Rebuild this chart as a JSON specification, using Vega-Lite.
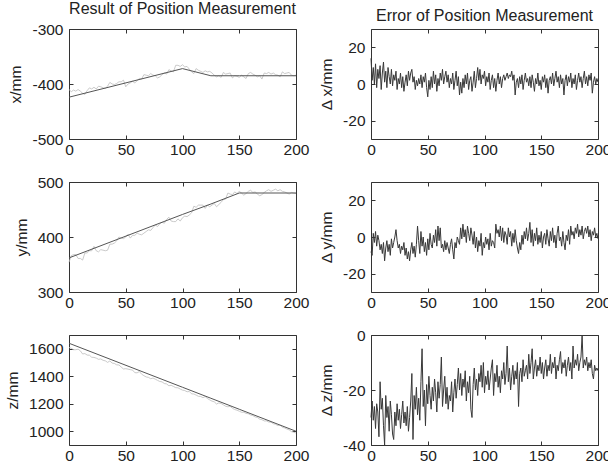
{
"$schema": "https://vega.github.io/schema/vega-lite/v6.json",
"padding": {"left": 5, "top": 0, "right": 5, "bottom": 5},
"background": "white",
"config": {
  "font": "Liberation Sans",
  "view": {"stroke": "#333", "strokeWidth": 1},
  "axis": {"domain": false, "grid": false, "tickColor": "#333", "tickSize": -4, "labelFontSize": 15.5, "labelColor": "#222", "labelFont": "Liberation Sans", "titleFont": "Liberation Sans", "titleFontSize": 15.5, "titleFontWeight": "normal", "titleColor": "#222", "labelFlush": false, "labelOverlap": false},
  "axisX": {"labelPadding": 7},
  "axisY": {"labelPadding": 10, "titlePadding": 8},
  "title": {"fontSize": 16, "fontWeight": "normal", "font": "Liberation Sans", "color": "#222", "offset": 5}
},
"datasets": {
"truth": [
{"t":0,"x":-424,"y":362,"z":1640},{"t":100,"x":-372,"y":441,"z":1320},{"t":125,"x":-385,"y":460,"z":1240},{"t":150,"x":-385,"y":480,"z":1160},{"t":200,"x":-385,"y":480,"z":1000}
],
"meas": [
{"t":0,"x":-410,"y":354,"z":1610},{"t":2,"x":-414,"y":366,"z":1603},{"t":4,"x":-411,"y":368,"z":1593},{"t":6,"x":-413,"y":368,"z":1593},{"t":8,"x":-410,"y":361,"z":1597},
{"t":10,"x":-413,"y":361,"z":1585},{"t":12,"x":-417,"y":358,"z":1562},{"t":14,"x":-419,"y":371,"z":1565},{"t":16,"x":-412,"y":371,"z":1554},{"t":18,"x":-407,"y":375,"z":1553},
{"t":20,"x":-409,"y":375,"z":1538},{"t":22,"x":-406,"y":383,"z":1537},{"t":24,"x":-409,"y":375,"z":1532},{"t":26,"x":-404,"y":373,"z":1523},{"t":28,"x":-405,"y":377,"z":1526},
{"t":30,"x":-407,"y":376,"z":1516},{"t":32,"x":-408,"y":375,"z":1512},{"t":34,"x":-404,"y":376,"z":1501},{"t":36,"x":-397,"y":387,"z":1511},{"t":38,"x":-400,"y":387,"z":1496},
{"t":40,"x":-401,"y":389,"z":1493},{"t":42,"x":-399,"y":393,"z":1483},{"t":44,"x":-396,"y":400,"z":1482},{"t":46,"x":-396,"y":398,"z":1467},{"t":48,"x":-393,"y":397,"z":1453},
{"t":50,"x":-405,"y":400,"z":1455},{"t":52,"x":-400,"y":405,"z":1452},{"t":54,"x":-398,"y":398,"z":1448},{"t":56,"x":-395,"y":403,"z":1445},{"t":58,"x":-398,"y":403,"z":1426},
{"t":60,"x":-394,"y":407,"z":1425},{"t":62,"x":-390,"y":405,"z":1434},{"t":64,"x":-391,"y":404,"z":1415},{"t":66,"x":-383,"y":407,"z":1404},{"t":68,"x":-384,"y":410,"z":1395},
{"t":70,"x":-385,"y":413,"z":1392},{"t":72,"x":-381,"y":412,"z":1382},{"t":74,"x":-384,"y":417,"z":1387},{"t":76,"x":-385,"y":422,"z":1379},{"t":78,"x":-389,"y":419,"z":1370},
{"t":80,"x":-387,"y":424,"z":1362},{"t":82,"x":-383,"y":427,"z":1359},{"t":84,"x":-380,"y":425,"z":1347},{"t":86,"x":-382,"y":432,"z":1344},{"t":88,"x":-374,"y":436,"z":1331},
{"t":90,"x":-376,"y":429,"z":1334},{"t":92,"x":-378,"y":428,"z":1326},{"t":94,"x":-366,"y":428,"z":1317},{"t":96,"x":-366,"y":433,"z":1316},{"t":98,"x":-368,"y":429,"z":1307},
{"t":100,"x":-365,"y":435,"z":1299},{"t":102,"x":-369,"y":438,"z":1296},{"t":104,"x":-368,"y":437,"z":1287},{"t":106,"x":-373,"y":440,"z":1289},{"t":108,"x":-378,"y":444,"z":1272},
{"t":110,"x":-381,"y":456,"z":1271},{"t":112,"x":-372,"y":454,"z":1263},{"t":114,"x":-375,"y":458,"z":1254},{"t":116,"x":-377,"y":458,"z":1253},{"t":118,"x":-379,"y":458,"z":1244},
{"t":120,"x":-376,"y":452,"z":1252},{"t":122,"x":-378,"y":458,"z":1238},{"t":124,"x":-377,"y":455,"z":1228},{"t":126,"x":-380,"y":458,"z":1219},{"t":128,"x":-384,"y":461,"z":1214},
{"t":130,"x":-387,"y":455,"z":1198},{"t":132,"x":-385,"y":459,"z":1206},{"t":134,"x":-388,"y":463,"z":1202},{"t":136,"x":-379,"y":468,"z":1192},{"t":138,"x":-382,"y":469,"z":1182},
{"t":140,"x":-381,"y":480,"z":1178},{"t":142,"x":-380,"y":478,"z":1181},{"t":144,"x":-389,"y":477,"z":1167},{"t":146,"x":-385,"y":482,"z":1158},{"t":148,"x":-386,"y":479,"z":1153},
{"t":150,"x":-388,"y":483,"z":1146},{"t":152,"x":-384,"y":480,"z":1138},{"t":154,"x":-387,"y":476,"z":1138},{"t":156,"x":-390,"y":479,"z":1130},{"t":158,"x":-381,"y":483,"z":1127},
{"t":160,"x":-379,"y":485,"z":1118},{"t":162,"x":-382,"y":481,"z":1114},{"t":164,"x":-384,"y":482,"z":1104},{"t":166,"x":-387,"y":478,"z":1100},{"t":168,"x":-385,"y":475,"z":1088},
{"t":170,"x":-391,"y":477,"z":1084},{"t":172,"x":-380,"y":481,"z":1075},{"t":174,"x":-381,"y":484,"z":1075},{"t":176,"x":-379,"y":486,"z":1067},{"t":178,"x":-382,"y":483,"z":1066},
{"t":180,"x":-380,"y":485,"z":1055},{"t":182,"x":-383,"y":487,"z":1051},{"t":184,"x":-384,"y":484,"z":1041},{"t":186,"x":-387,"y":486,"z":1045},{"t":188,"x":-378,"y":483,"z":1029},
{"t":190,"x":-381,"y":482,"z":1024},{"t":192,"x":-380,"y":480,"z":1016},{"t":194,"x":-379,"y":478,"z":1010},{"t":196,"x":-384,"y":481,"z":997},{"t":198,"x":-385,"y":480,"z":993},
{"t":200,"x":-384,"y":479,"z":987}
],
"err": [
{"t":0,"dx":14,"dy":-8,"dz":-30},{"t":1,"dx":2,"dy":-10,"dz":-24},{"t":2,"dx":9,"dy":2,"dz":-31},{"t":3,"dx":0,"dy":-3,"dz":-26},{"t":4,"dx":11,"dy":3,"dz":-34},
{"t":5,"dx":-2,"dy":-5,"dz":-25},{"t":6,"dx":8,"dy":1,"dz":-28},{"t":7,"dx":3,"dy":-2,"dz":-37},{"t":8,"dx":10,"dy":-7,"dz":-17},{"t":9,"dx":-3,"dy":-4,"dz":-27},
{"t":10,"dx":6,"dy":-9,"dz":-23},{"t":11,"dx":12,"dy":-3,"dz":-33},{"t":12,"dx":1,"dy":-13,"dz":-40},{"t":13,"dx":7,"dy":-6,"dz":-22},{"t":14,"dx":-2,"dy":-2,"dz":-30},
{"t":15,"dx":9,"dy":-8,"dz":-26},{"t":16,"dx":4,"dy":-4,"dz":-35},{"t":17,"dx":0,"dy":-10,"dz":-24},{"t":18,"dx":8,"dy":-1,"dz":-29},{"t":19,"dx":-1,"dy":-6,"dz":-36},
{"t":20,"dx":5,"dy":-3,"dz":-38},{"t":21,"dx":2,"dy":0,"dz":-28},{"t":22,"dx":7,"dy":4,"dz":-33},{"t":23,"dx":-3,"dy":-2,"dz":-25},{"t":24,"dx":3,"dy":-6,"dz":-31},
{"t":25,"dx":0,"dy":-4,"dz":-27},{"t":26,"dx":6,"dy":-9,"dz":-34},{"t":27,"dx":-2,"dy":-5,"dz":-29},{"t":28,"dx":4,"dy":-7,"dz":-24},{"t":29,"dx":-4,"dy":-3,"dz":-32},
{"t":30,"dx":1,"dy":-10,"dz":-28},{"t":31,"dx":5,"dy":-6,"dz":-33},{"t":32,"dx":-1,"dy":-12,"dz":-26},{"t":33,"dx":7,"dy":-8,"dz":-35},{"t":34,"dx":2,"dy":-13,"dz":-30},
{"t":35,"dx":6,"dy":-7,"dz":-24},{"t":36,"dx":8,"dy":-3,"dz":-14},{"t":37,"dx":1,"dy":-9,"dz":-38},{"t":38,"dx":4,"dy":-5,"dz":-22},{"t":39,"dx":-3,"dy":-11,"dz":-27},
{"t":40,"dx":2,"dy":-4,"dz":-19},{"t":41,"dx":-1,"dy":6,"dz":-29},{"t":42,"dx":3,"dy":-2,"dz":-23},{"t":43,"dx":0,"dy":-9,"dz":-31},{"t":44,"dx":5,"dy":3,"dz":-17},
{"t":45,"dx":-2,"dy":-5,"dz":-5},{"t":46,"dx":4,"dy":0,"dz":-26},{"t":47,"dx":1,"dy":-8,"dz":-20},{"t":48,"dx":6,"dy":-3,"dz":-33},{"t":49,"dx":-2,"dy":-10,"dz":-18},
{"t":50,"dx":-7,"dy":-1,"dz":-25},{"t":51,"dx":2,"dy":-7,"dz":-15},{"t":52,"dx":-3,"dy":2,"dz":-22},{"t":53,"dx":4,"dy":-4,"dz":-27},{"t":54,"dx":-2,"dy":-6,"dz":-19},
{"t":55,"dx":7,"dy":1,"dz":-24},{"t":56,"dx":0,"dy":-3,"dz":-16},{"t":57,"dx":5,"dy":4,"dz":-21},{"t":58,"dx":-4,"dy":-5,"dz":-28},{"t":59,"dx":3,"dy":6,"dz":-17},
{"t":60,"dx":-1,"dy":-2,"dz":-23},{"t":61,"dx":6,"dy":5,"dz":-18},{"t":62,"dx":2,"dy":-6,"dz":-8},{"t":63,"dx":8,"dy":-4,"dz":-26},{"t":64,"dx":0,"dy":-8,"dz":-20},
{"t":65,"dx":4,"dy":-2,"dz":-15},{"t":66,"dx":7,"dy":-7,"dz":-25},{"t":67,"dx":1,"dy":-3,"dz":-19},{"t":68,"dx":5,"dy":-6,"dz":-27},{"t":69,"dx":-2,"dy":-9,"dz":-22},
{"t":70,"dx":3,"dy":-4,"dz":-24},{"t":71,"dx":0,"dy":-1,"dz":-17},{"t":72,"dx":6,"dy":-7,"dz":-28},{"t":73,"dx":-3,"dy":-12,"dz":-21},{"t":74,"dx":2,"dy":-3,"dz":-16},
{"t":75,"dx":7,"dy":-6,"dz":-23},{"t":76,"dx":-1,"dy":0,"dz":-18},{"t":77,"dx":4,"dy":-2,"dz":-12},{"t":78,"dx":-6,"dy":-4,"dz":-20},{"t":79,"dx":1,"dy":5,"dz":-14},
{"t":80,"dx":-5,"dy":-1,"dz":-22},{"t":81,"dx":3,"dy":7,"dz":-16},{"t":82,"dx":-2,"dy":0,"dz":-19},{"t":83,"dx":5,"dy":4,"dz":-13},{"t":84,"dx":0,"dy":-3,"dz":-24},
{"t":85,"dx":6,"dy":6,"dz":-17},{"t":86,"dx":-3,"dy":2,"dz":-21},{"t":87,"dx":2,"dy":-2,"dz":-15},{"t":88,"dx":4,"dy":5,"dz":-27},{"t":89,"dx":-4,"dy":1,"dz":-30},
{"t":90,"dx":1,"dy":-4,"dz":-18},{"t":91,"dx":7,"dy":3,"dz":-12},{"t":92,"dx":-2,"dy":-6,"dz":-20},{"t":93,"dx":3,"dy":0,"dz":-16},{"t":94,"dx":9,"dy":-8,"dz":-22},
{"t":95,"dx":2,"dy":-2,"dz":-14},{"t":96,"dx":8,"dy":-5,"dz":-17},{"t":97,"dx":0,"dy":2,"dz":-11},{"t":98,"dx":5,"dy":-10,"dz":-19},{"t":99,"dx":3,"dy":-3,"dz":-10},
{"t":100,"dx":7,"dy":-6,"dz":-21},{"t":101,"dx":-1,"dy":0,"dz":-15},{"t":102,"dx":4,"dy":-4,"dz":-18},{"t":103,"dx":1,"dy":-1,"dz":-13},{"t":104,"dx":6,"dy":-7,"dz":-20},
{"t":105,"dx":-3,"dy":2,"dz":-16},{"t":106,"dx":2,"dy":-5,"dz":-12},{"t":107,"dx":5,"dy":-2,"dz":-9},{"t":108,"dx":-2,"dy":-3,"dz":-22},{"t":109,"dx":3,"dy":-6,"dz":-14},
{"t":110,"dx":-4,"dy":7,"dz":-17},{"t":111,"dx":2,"dy":2,"dz":-11},{"t":112,"dx":6,"dy":4,"dz":-19},{"t":113,"dx":0,"dy":0,"dz":-15},{"t":114,"dx":4,"dy":6,"dz":-21},
{"t":115,"dx":-2,"dy":-2,"dz":-13},{"t":116,"dx":3,"dy":5,"dz":-16},{"t":117,"dx":5,"dy":-3,"dz":-10},{"t":118,"dx":2,"dy":3,"dz":-18},{"t":119,"dx":4,"dy":1,"dz":-14},
{"t":120,"dx":6,"dy":-4,"dz":-4},{"t":121,"dx":3,"dy":5,"dz":-17},{"t":122,"dx":5,"dy":0,"dz":-12},{"t":123,"dx":4,"dy":3,"dz":-20},{"t":124,"dx":7,"dy":-5,"dz":-15},
{"t":125,"dx":2,"dy":2,"dz":-11},{"t":126,"dx":5,"dy":-3,"dz":-18},{"t":127,"dx":-6,"dy":4,"dz":-13},{"t":128,"dx":1,"dy":-2,"dz":-16},{"t":129,"dx":3,"dy":-6,"dz":-10},
{"t":130,"dx":-2,"dy":-9,"dz":-26},{"t":131,"dx":4,"dy":-3,"dz":-14},{"t":132,"dx":0,"dy":-7,"dz":-12},{"t":133,"dx":5,"dy":1,"dz":-17},{"t":134,"dx":-3,"dy":-4,"dz":-9},
{"t":135,"dx":2,"dy":3,"dz":-15},{"t":136,"dx":6,"dy":-1,"dz":-13},{"t":137,"dx":1,"dy":5,"dz":-11},{"t":138,"dx":3,"dy":-2,"dz":-16},{"t":139,"dx":-1,"dy":2,"dz":-7},
{"t":140,"dx":4,"dy":8,"dz":-14},{"t":141,"dx":-2,"dy":-3,"dz":-10},{"t":142,"dx":5,"dy":4,"dz":-5},{"t":143,"dx":1,"dy":-5,"dz":-16},{"t":144,"dx":-4,"dy":2,"dz":-12},
{"t":145,"dx":3,"dy":-2,"dz":-9},{"t":146,"dx":0,"dy":5,"dz":-15},{"t":147,"dx":6,"dy":-4,"dz":-11},{"t":148,"dx":-1,"dy":1,"dz":-13},{"t":149,"dx":2,"dy":-3,"dz":-8},
{"t":150,"dx":-3,"dy":3,"dz":-14},{"t":151,"dx":4,"dy":-6,"dz":-10},{"t":152,"dx":1,"dy":0,"dz":-16},{"t":153,"dx":5,"dy":2,"dz":-12},{"t":154,"dx":-2,"dy":-4,"dz":-9},
{"t":155,"dx":3,"dy":4,"dz":-15},{"t":156,"dx":-5,"dy":-1,"dz":-11},{"t":157,"dx":2,"dy":-5,"dz":-13},{"t":158,"dx":4,"dy":3,"dz":-7},{"t":159,"dx":0,"dy":-2,"dz":-14},
{"t":160,"dx":6,"dy":5,"dz":-10},{"t":161,"dx":-1,"dy":-3,"dz":-12},{"t":162,"dx":3,"dy":1,"dz":-8},{"t":163,"dx":7,"dy":-6,"dz":-16},{"t":164,"dx":1,"dy":2,"dz":-11},
{"t":165,"dx":4,"dy":6,"dz":-13},{"t":166,"dx":-2,"dy":-2,"dz":-9},{"t":167,"dx":5,"dy":0,"dz":-6},{"t":168,"dx":0,"dy":-5,"dz":-14},{"t":169,"dx":3,"dy":3,"dz":-10},
{"t":170,"dx":-6,"dy":-3,"dz":-12},{"t":171,"dx":2,"dy":-7,"dz":-9},{"t":172,"dx":5,"dy":1,"dz":-15},{"t":173,"dx":-1,"dy":-2,"dz":-11},{"t":174,"dx":4,"dy":4,"dz":-8},
{"t":175,"dx":1,"dy":-4,"dz":-13},{"t":176,"dx":6,"dy":6,"dz":-10},{"t":177,"dx":-2,"dy":1,"dz":-16},{"t":178,"dx":3,"dy":3,"dz":-4},{"t":179,"dx":0,"dy":-1,"dz":-12},
{"t":180,"dx":5,"dy":5,"dz":-9},{"t":181,"dx":-3,"dy":2,"dz":-11},{"t":182,"dx":2,"dy":7,"dz":-7},{"t":183,"dx":6,"dy":0,"dz":-13},{"t":184,"dx":1,"dy":4,"dz":-10},
{"t":185,"dx":4,"dy":1,"dz":-8},{"t":186,"dx":-2,"dy":6,"dz":0},{"t":187,"dx":3,"dy":-1,"dz":-12},{"t":188,"dx":7,"dy":3,"dz":-9},{"t":189,"dx":0,"dy":5,"dz":-11},
{"t":190,"dx":4,"dy":2,"dz":-8},{"t":191,"dx":-1,"dy":6,"dz":-13},{"t":192,"dx":5,"dy":0,"dz":-10},{"t":193,"dx":2,"dy":4,"dz":-12},{"t":194,"dx":6,"dy":-2,"dz":-9},
{"t":195,"dx":-5,"dy":3,"dz":-14},{"t":196,"dx":1,"dy":1,"dz":-16},{"t":197,"dx":4,"dy":5,"dz":-11},{"t":198,"dx":0,"dy":0,"dz":-13},{"t":199,"dx":3,"dy":2,"dz":-12},
{"t":200,"dx":1,"dy":-1,"dz":-13}
]
},
"columns": 2,
"bounds": "flush",
"spacing": {"row": 43, "column": 75},
"concat": [
{
  "width": 227, "height": 110,
  "title": "Result of Position Measurement",
  "layer": [
    {"data": {"name": "meas"}, "mark": {"type": "line", "color": "#bdbdbd", "strokeWidth": 0.8},
     "encoding": {
       "x": {"field": "t", "type": "quantitative", "scale": {"domain": [0, 200], "nice": false}, "axis": {"values": [0, 50, 100, 150, 200], "title": null}},
       "y": {"field": "x", "type": "quantitative", "scale": {"domain": [-500, -300], "nice": false}, "axis": {"values": [-500, -400, -300], "labelExpr": "'' + datum.value", "title": "x/mm"}}}},
    {"data": {"name": "truth"}, "mark": {"type": "line", "color": "#555", "strokeWidth": 1},
     "encoding": {
       "x": {"field": "t", "type": "quantitative", "scale": {"domain": [0, 200], "nice": false}, "axis": {"orient": "top", "values": [0, 50, 100, 150, 200], "labels": false, "title": null}},
       "y": {"field": "x", "type": "quantitative", "scale": {"domain": [-500, -300], "nice": false}, "axis": {"orient": "right", "values": [-500, -400, -300], "labels": false, "title": null}}}}
  ],
  "resolve": {"scale": {"x": "independent", "y": "independent"}}
},
{
  "width": 227, "height": 110,
  "title": "Error of Position Measurement",
  "layer": [
    {"data": {"name": "err"}, "mark": {"type": "line", "color": "#383838", "strokeWidth": 1},
     "encoding": {
       "x": {"field": "t", "type": "quantitative", "scale": {"domain": [0, 200], "nice": false}, "axis": {"values": [0, 50, 100, 150, 200], "title": null}},
       "y": {"field": "dx", "type": "quantitative", "scale": {"domain": [-30, 30], "nice": false}, "axis": {"values": [-20, 0, 20], "labelExpr": "'' + datum.value", "title": "Δ x/mm"}}}},
    {"data": {"name": "err"}, "mark": {"type": "line", "color": "#333", "strokeWidth": 1, "strokeOpacity": 0},
     "encoding": {
       "x": {"field": "t", "type": "quantitative", "scale": {"domain": [0, 200], "nice": false}, "axis": {"orient": "top", "values": [0, 50, 100, 150, 200], "labels": false, "title": null}},
       "y": {"field": "dx", "type": "quantitative", "scale": {"domain": [-30, 30], "nice": false}, "axis": {"orient": "right", "values": [-20, 0, 20], "labels": false, "title": null}}}}
  ],
  "resolve": {"scale": {"x": "independent", "y": "independent"}}
},
{
  "width": 227, "height": 110,
  "layer": [
    {"data": {"name": "meas"}, "mark": {"type": "line", "color": "#bdbdbd", "strokeWidth": 0.8},
     "encoding": {
       "x": {"field": "t", "type": "quantitative", "scale": {"domain": [0, 200], "nice": false}, "axis": {"values": [0, 50, 100, 150, 200], "title": null}},
       "y": {"field": "y", "type": "quantitative", "scale": {"domain": [300, 500], "nice": false}, "axis": {"values": [300, 400, 500], "labelExpr": "'' + datum.value", "title": "y/mm"}}}},
    {"data": {"name": "truth"}, "mark": {"type": "line", "color": "#555", "strokeWidth": 1},
     "encoding": {
       "x": {"field": "t", "type": "quantitative", "scale": {"domain": [0, 200], "nice": false}, "axis": {"orient": "top", "values": [0, 50, 100, 150, 200], "labels": false, "title": null}},
       "y": {"field": "y", "type": "quantitative", "scale": {"domain": [300, 500], "nice": false}, "axis": {"orient": "right", "values": [300, 400, 500], "labels": false, "title": null}}}}
  ],
  "resolve": {"scale": {"x": "independent", "y": "independent"}}
},
{
  "width": 227, "height": 110,
  "layer": [
    {"data": {"name": "err"}, "mark": {"type": "line", "color": "#383838", "strokeWidth": 1},
     "encoding": {
       "x": {"field": "t", "type": "quantitative", "scale": {"domain": [0, 200], "nice": false}, "axis": {"values": [0, 50, 100, 150, 200], "title": null}},
       "y": {"field": "dy", "type": "quantitative", "scale": {"domain": [-30, 30], "nice": false}, "axis": {"values": [-20, 0, 20], "labelExpr": "'' + datum.value", "title": "Δ y/mm"}}}},
    {"data": {"name": "err"}, "mark": {"type": "line", "color": "#333", "strokeWidth": 1, "strokeOpacity": 0},
     "encoding": {
       "x": {"field": "t", "type": "quantitative", "scale": {"domain": [0, 200], "nice": false}, "axis": {"orient": "top", "values": [0, 50, 100, 150, 200], "labels": false, "title": null}},
       "y": {"field": "dy", "type": "quantitative", "scale": {"domain": [-30, 30], "nice": false}, "axis": {"orient": "right", "values": [-20, 0, 20], "labels": false, "title": null}}}}
  ],
  "resolve": {"scale": {"x": "independent", "y": "independent"}}
},
{
  "width": 227, "height": 110,
  "layer": [
    {"data": {"name": "meas"}, "mark": {"type": "line", "color": "#bdbdbd", "strokeWidth": 0.8},
     "encoding": {
       "x": {"field": "t", "type": "quantitative", "scale": {"domain": [0, 200], "nice": false}, "axis": {"values": [0, 50, 100, 150, 200], "title": null}},
       "y": {"field": "z", "type": "quantitative", "scale": {"domain": [900, 1700], "nice": false}, "axis": {"values": [1000, 1200, 1400, 1600], "labelExpr": "'' + datum.value", "title": "z/mm"}}}},
    {"data": {"name": "truth"}, "mark": {"type": "line", "color": "#555", "strokeWidth": 1},
     "encoding": {
       "x": {"field": "t", "type": "quantitative", "scale": {"domain": [0, 200], "nice": false}, "axis": {"orient": "top", "values": [0, 50, 100, 150, 200], "labels": false, "title": null}},
       "y": {"field": "z", "type": "quantitative", "scale": {"domain": [900, 1700], "nice": false}, "axis": {"orient": "right", "values": [1000, 1200, 1400, 1600], "labels": false, "title": null}}}}
  ],
  "resolve": {"scale": {"x": "independent", "y": "independent"}}
},
{
  "width": 227, "height": 110,
  "layer": [
    {"data": {"name": "err"}, "mark": {"type": "line", "color": "#383838", "strokeWidth": 1},
     "encoding": {
       "x": {"field": "t", "type": "quantitative", "scale": {"domain": [0, 200], "nice": false}, "axis": {"values": [0, 50, 100, 150, 200], "title": null}},
       "y": {"field": "dz", "type": "quantitative", "scale": {"domain": [-40, 0], "nice": false}, "axis": {"values": [-40, -20, 0], "labelExpr": "'' + datum.value", "title": "Δ z/mm"}}}},
    {"data": {"name": "err"}, "mark": {"type": "line", "color": "#333", "strokeWidth": 1, "strokeOpacity": 0},
     "encoding": {
       "x": {"field": "t", "type": "quantitative", "scale": {"domain": [0, 200], "nice": false}, "axis": {"orient": "top", "values": [0, 50, 100, 150, 200], "labels": false, "title": null}},
       "y": {"field": "dz", "type": "quantitative", "scale": {"domain": [-40, 0], "nice": false}, "axis": {"orient": "right", "values": [-40, -20, 0], "labels": false, "title": null}}}}
  ],
  "resolve": {"scale": {"x": "independent", "y": "independent"}}
}
]
}
